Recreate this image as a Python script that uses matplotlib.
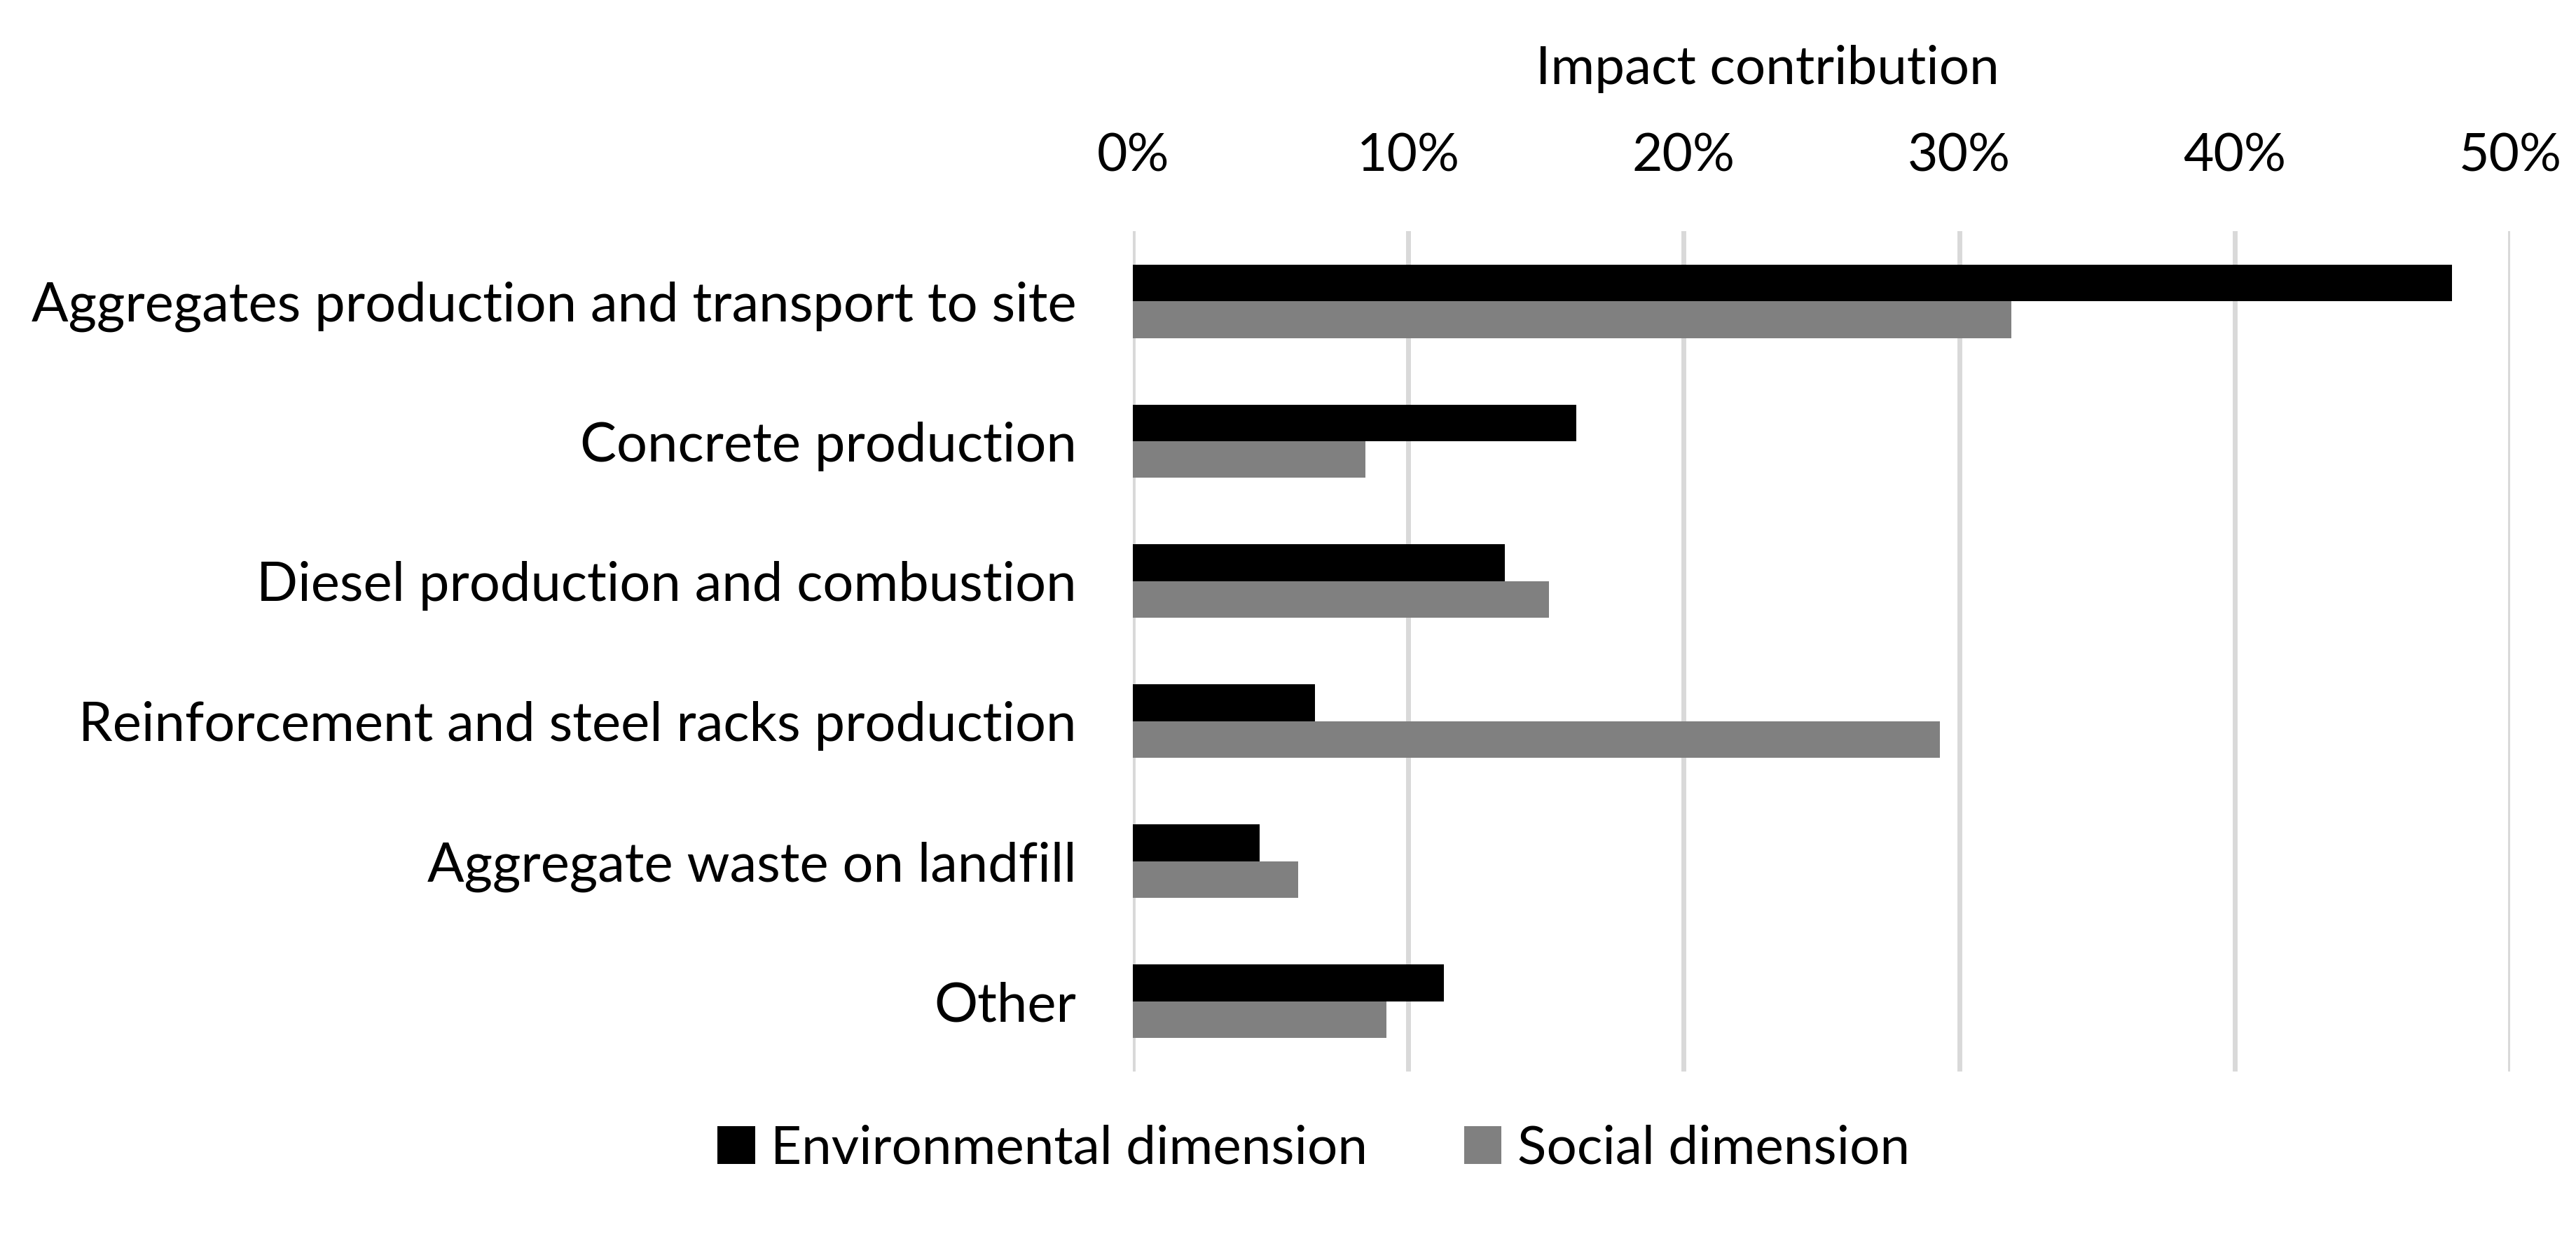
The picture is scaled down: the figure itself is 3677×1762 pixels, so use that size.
import matplotlib.pyplot as plt
import matplotlib.ticker as mticker
import numpy as np

categories = [
    'Aggregates production and transport to site',
    'Concrete production',
    'Diesel production and combustion',
    'Reinforcement and steel racks production',
    'Aggregate waste on landfill',
    'Other',
]
environmental = [47.9, 16.1, 13.5, 6.6, 4.6, 11.3]
social = [31.9, 8.45, 15.1, 29.3, 6.0, 9.2]
series_names = ['Environmental dimension', 'Social dimension']
tick_values = [0, 10, 20, 30, 40, 50]

plt.rcParams['font.family'] = ['Lato', 'DejaVu Sans']

fig = plt.figure(figsize=(36.77, 17.62), dpi=100)
ax = fig.add_axes([0.4398, 0.1317, 0.9744 - 0.4398, 0.8127 - 0.1317])

y = np.arange(len(categories))
h = 0.2625
ax.barh(y - h / 2, environmental, height=h, color='#000000', label=series_names[0], zorder=3)
ax.barh(y + h / 2, social, height=h, color='#808080', label=series_names[1], zorder=3)

ax.set_ylim(len(categories) - 0.5, -0.5)
ax.set_xlim(0, 50)
ax.set_yticks(y)
ax.set_yticklabels(categories, fontsize=56)
ax.set_xticks(tick_values)
ax.xaxis.set_major_formatter(mticker.FuncFormatter(lambda v, p: f'{int(v)}%'))
ax.xaxis.tick_top()
ax.tick_params(axis='x', length=0, pad=52, labelsize=54)
ax.tick_params(axis='y', length=0, pad=58)
ax.grid(axis='x', color='#d9d9d9', linewidth=5, zorder=0)
for s in ax.spines.values():
    s.set_visible(False)

fig.text(0.686, 0.944, 'Impact contribution', fontsize=55, ha='center', va='center')

fig.legend(loc='center', bbox_to_anchor=(0.51, 0.069), ncol=2, frameon=False,
           fontsize=55, handlelength=0.7, handleheight=0.7, handletextpad=0.3,
           columnspacing=1.8)

fig.savefig('out.png', dpi=100)
